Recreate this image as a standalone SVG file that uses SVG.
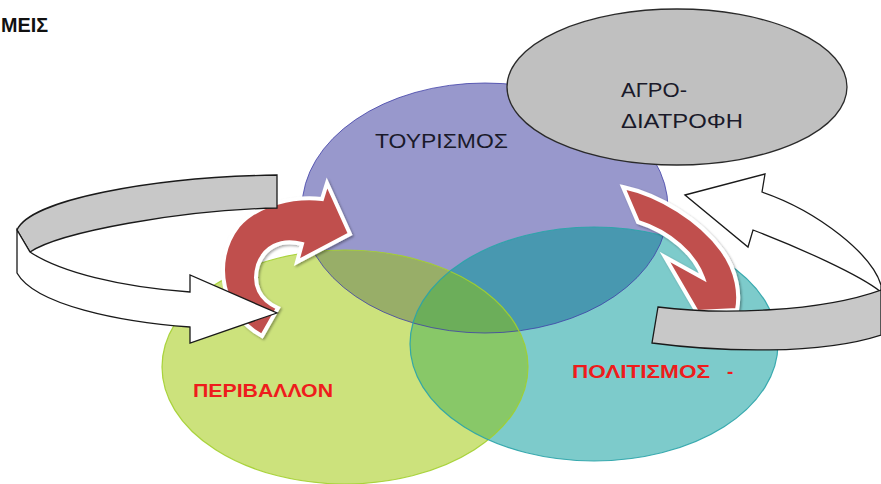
<svg xmlns="http://www.w3.org/2000/svg" width="881" height="484" viewBox="0 0 881 484">
<style>
.lbl{font-family:"Liberation Sans",Arial,sans-serif;font-size:20px;fill:#1a1a2a}
.red{font-family:"Liberation Sans",Arial,sans-serif;font-size:19px;font-weight:bold;fill:#ee1c1c}
.red-arrow{fill:#c0504d;stroke:#ffffff;stroke-width:4;stroke-linejoin:miter;filter:url(#sh)}
.band-gray{fill:#c8c8c8;stroke:#1a1a1a;stroke-width:1.3;stroke-linejoin:miter}
.band-white{fill:#ffffff;stroke:#1a1a1a;stroke-width:1.3;stroke-linejoin:miter}
</style>
<defs>
<clipPath id="cP"><ellipse cx="485" cy="208" rx="183" ry="125"/></clipPath>
<clipPath id="cG"><ellipse cx="345" cy="367" rx="183" ry="117"/></clipPath>
<clipPath id="cT"><ellipse cx="594" cy="344" rx="184" ry="117"/></clipPath>
<filter id="sh" x="-20%" y="-20%" width="140%" height="140%"><feDropShadow dx="1.5" dy="1.5" stdDeviation="1.2" flood-color="#000" flood-opacity="0.35"/></filter>
</defs>
<rect width="881" height="484" fill="#ffffff"/>
<text x="1" y="32" font-family="'Liberation Sans',Arial,sans-serif" font-size="20" font-weight="bold" fill="#111" textLength="47" lengthAdjust="spacingAndGlyphs">ΜΕΙΣ</text>

<g id="node-tourismos">
<ellipse cx="485" cy="208" rx="183" ry="125" fill="#9898cc"/>
</g>
<g id="node-perivallon">
<ellipse cx="345" cy="367" rx="183" ry="117" fill="#cce27c"/>
</g>
<g id="node-politismos">
<ellipse cx="594" cy="344" rx="184" ry="117" fill="#7dcbcb"/>
</g>
<g id="overlaps">
<g clip-path="url(#cP)"><ellipse cx="345" cy="367" rx="183" ry="117" fill="#98ae68"/><ellipse cx="594" cy="344" rx="184" ry="117" fill="#4898b0"/></g>
<g clip-path="url(#cG)"><ellipse cx="594" cy="344" rx="184" ry="117" fill="#88c868"/></g>
<g clip-path="url(#cG)"><g clip-path="url(#cP)"><ellipse cx="594" cy="344" rx="184" ry="117" fill="#6cae5a"/></g></g>
<ellipse cx="485" cy="208" rx="183" ry="125" fill="none" stroke="#4040a8" stroke-width="1" stroke-opacity="0.8"/>
<ellipse cx="345" cy="367" rx="183" ry="117" fill="none" stroke="#a2cf2e" stroke-width="1.2" stroke-opacity="0.9"/>
<ellipse cx="594" cy="344" rx="184" ry="117" fill="none" stroke="#2aa3a8" stroke-width="1.2" stroke-opacity="0.9"/>
</g>
<g id="labels">
<text class="lbl" x="375" y="148" textLength="133" lengthAdjust="spacingAndGlyphs">ΤΟΥΡΙΣΜΟΣ</text>
<text class="red" x="193" y="397" textLength="140" lengthAdjust="spacingAndGlyphs">ΠΕΡΙΒΑΛΛΟΝ</text>
<text class="red" x="572" y="378"><tspan textLength="138" lengthAdjust="spacingAndGlyphs">ΠΟΛΙΤΙΣΜΟΣ</tspan><tspan x="727">-</tspan></text>
</g>
<g id="node-agro">
<ellipse cx="677" cy="87" rx="170" ry="78" fill="#c0c0c0" stroke="#2a2a2a" stroke-width="1.3"/>
<text class="lbl" x="621" y="97" textLength="66" lengthAdjust="spacingAndGlyphs">ΑΓΡΟ-</text>
<text class="lbl" x="621" y="128" textLength="122" lengthAdjust="spacingAndGlyphs">ΔΙΑΤΡΟΦΗ</text>
</g>
<g id="connectors">
<path class="red-arrow" d="M262,336 C223,315 210,262 238,226 C258,203 295,196 322,199 L327,183 L350,234 L297,262 L302,244 C280,238 264,248 258,265 C252,285 260,300 278,308 Z"/>
<path class="red-arrow" d="M623,187 C660,195 700,220 722,250 C738,272 740,295 737,310 L697,312 L665,257 L703,278 C695,255 670,232 638,222 Z"/>
<path class="band-gray" d="M277,175 L277,208 C180,210 60,232 30,252 L17,230 C30,200 150,177 277,175 Z"/>
<path class="band-white" d="M17,230 L30,252 C60,272 120,287 190,292 L190,275 L277,313 L190,343 L190,327 C120,322 35,305 17,273 Z"/>
<path class="band-white" d="M685,195 L765,174 L762,192 C820,212 872,255 881,285 L881,292 C860,275 800,248 753,230 L748,247 Z"/>
<path class="band-gray" d="M658,307 C720,315 820,312 881,290 L881,335 C820,355 720,352 652,343 Z"/>
</g>
</svg>
